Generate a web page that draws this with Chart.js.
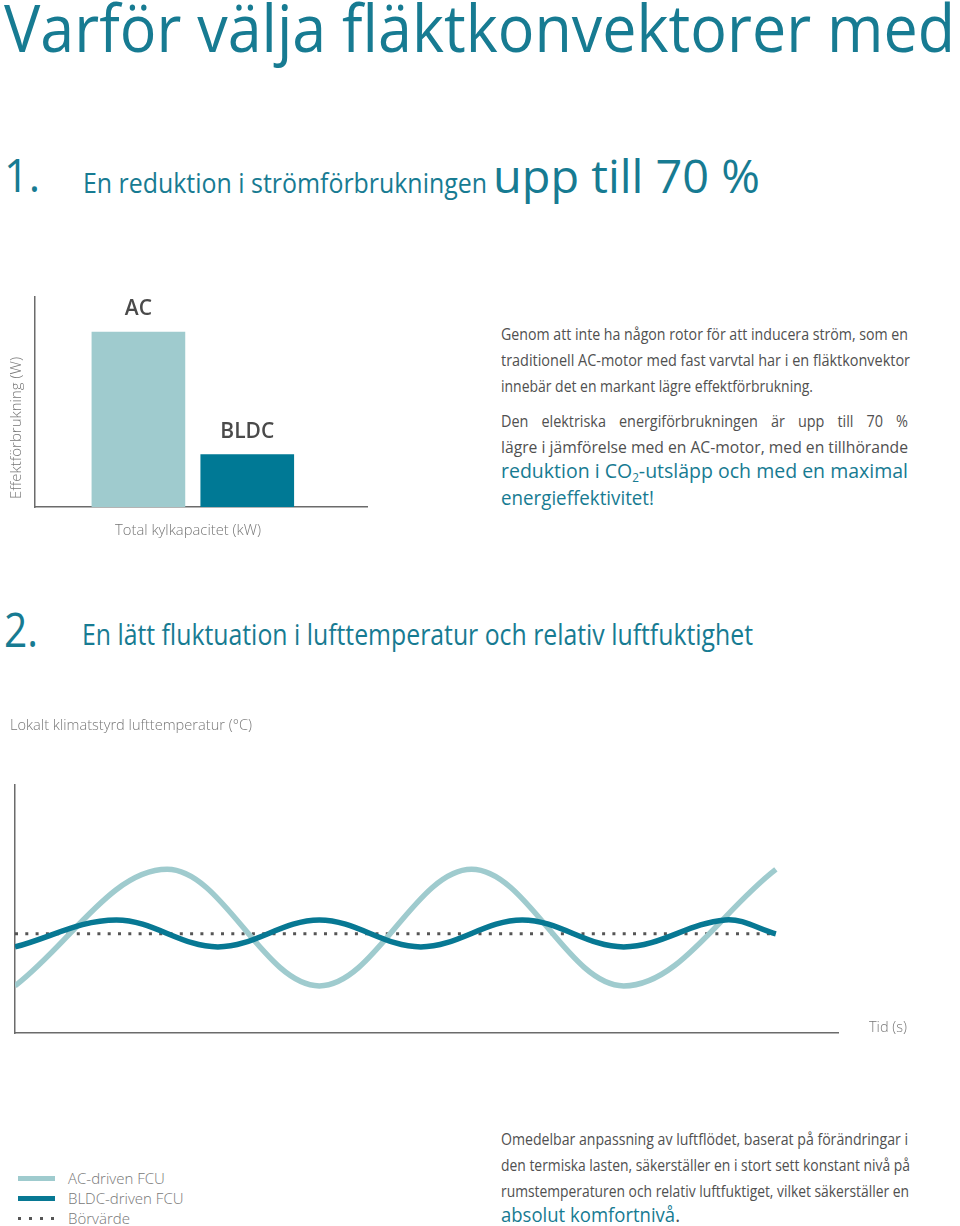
<!DOCTYPE html>
<html lang="sv">
<head>
<meta charset="utf-8">
<title>Fläktkonvektorer</title>
<script src="https://cdn.jsdelivr.net/npm/chart.js@4.4.0/dist/chart.umd.min.js"></script>
<style>
  html, body { margin: 0; padding: 0; background: #fff; }
  body { position: relative; width: 960px; height: 1226px; overflow: hidden; font-family: "Open Sans", sans-serif; }
  .t { position: absolute; white-space: nowrap; line-height: 1; transform-origin: 0 0; }
  .teal { color: #177b92; }
  .body { font-size: 16px; color: #505050; }
  .big { font-size: 20.5px; color: #177b92; }
  .gray { color: #505050; }
  sub { font-size: 0.6em; vertical-align: baseline; position: relative; top: 0.35em; line-height: 0; }
  canvas { position: absolute; left: 0; }
  #legend { position: absolute; left: 18px; top: 1168px; }
  #legend .row { height: 20px; display: flex; align-items: center; }
  #legend .sw { width: 37px; margin-right: 13px; }
  #legend .lbl { font-size: 15px; font-weight: 300; color: #777; line-height: 20px; }
</style>
</head>
<body>

<div class="t teal" style="left:4px;font-size:66px" data-b="52" data-w="951">Varför välja fläktkonvektorer med</div>

<div class="t teal" style="left:4px;font-size:45px" data-b="192" data-w="36">1.</div>
<div class="t teal" style="left:83px;font-size:28px" data-b="193" data-w="404">En reduktion i strömförbrukningen</div>
<div class="t teal" style="left:493px;font-size:46px" data-b="193" data-w="267">upp till 70 %</div>

<div class="t body" style="left:501px" data-b="340" data-w="407">Genom att inte ha någon rotor för att inducera ström, som en</div>
<div class="t body" style="left:501px" data-b="366" data-w="409">traditionell AC-motor med fast varvtal har i en fläktkonvektor</div>
<div class="t body" style="left:501px" data-b="392" data-w="312">innebär det en markant lägre effektförbrukning.</div>
<div class="t body" style="left:501px" data-b="427" data-w="407" data-k="0.9">Den elektriska energiförbrukningen är upp till 70 %</div>
<div class="t body" style="left:501px" data-b="453" data-w="407">lägre i jämförelse med en AC-motor, med en tillhörande</div>
<div class="t big" style="left:501px" data-b="478" data-w="407">reduktion i CO<sub>2</sub>-utsläpp och med en maximal</div>
<div class="t big" style="left:501px" data-b="505" data-w="153">energieffektivitet!</div>

<div class="t teal" style="left:4px;font-size:48px" data-b="648" data-w="34">2.</div>
<div class="t teal" style="left:82px;font-size:30px" data-b="646" data-w="671">En lätt fluktuation i lufttemperatur och relativ luftfuktighet</div>

<div class="t body" style="left:501px" data-b="1145" data-w="407">Omedelbar anpassning av luftflödet, baserat på förändringar i</div>
<div class="t body" style="left:501px" data-b="1171" data-w="409">den termiska lasten, säkerställer en i stort sett konstant nivå på</div>
<div class="t body" style="left:501px" data-b="1197" data-w="408">rumstemperaturen och relativ luftfuktiget, vilket säkerställer en</div>
<div class="t big" style="left:501px" data-b="1222" data-w="179">absolut komfortnivå<span class="gray">.</span></div>

<canvas id="barChart" width="380" height="260" style="top:290px"></canvas>
<canvas id="lineChart" width="960" height="345" style="top:700px"></canvas>
<div id="legend"></div>

<script>
// --- bar chart data (effect consumption, arbitrary units) ---
const barCategories = ["AC", "BLDC"];
const barConsumption = [100, 30];
const barAxisMax = 120;

// --- line chart data (time units, °C) ---
const acTime = [0, 6, 12, 18, 24, 30];
const acTemp = [19.9, 24.6, 19.9, 24.6, 19.9, 24.6];
const bldcTime = [0, 4, 8, 12, 16, 20, 24, 28, 30];
const bldcTemp = [21.47, 22.56, 21.47, 22.56, 21.47, 22.56, 21.47, 22.56, 22.0];
const setpointTime = [0, 30];
const setpointTemp = [22.0, 22.0];
const timeMax = 32.45;
const tempMin = 18;
const tempMax = 28;

const lightTeal = "#9fcbce";
const darkTeal = "#077893";

// fit text lines to the widths of the original layout
document.querySelectorAll(".t").forEach(el => {
  const fs = parseFloat(getComputedStyle(el).fontSize);
  el.style.top = (el.dataset.b - 0.888 * fs) + "px";
  const target = +el.dataset.w;
  const natural = el.getBoundingClientRect().width;
  if (el.dataset.k) {
    // justified line: condense letters, widen the gaps
    const k = +el.dataset.k;
    const spaces = (el.textContent.match(/ /g) || []).length;
    if (spaces) el.style.wordSpacing = ((target / k - natural) / spaces) + "px";
    el.style.transform = "scaleX(" + k + ")";
  } else {
    el.style.transform = "scaleX(" + (target / natural) + ")";
  }
});

const axisLine = { display: true, color: "#6b6b6b", width: 1.5 };
const noGrid = { display: false, drawTicks: false };

const barText = {
  id: "barText",
  afterDatasetsDraw(chart) {
    const { ctx, chartArea } = chart;
    const meta = chart.getDatasetMeta(0);
    const labelWidths = [28, 54];
    ctx.save();
    ctx.fillStyle = "#4a4a4a";
    ctx.font = "600 21px 'Open Sans'";
    ctx.textAlign = "center";
    ctx.textBaseline = "alphabetic";
    meta.data.forEach((bar, i) => {
      ctx.fillText(barCategories[i], bar.x, bar.y - 17, labelWidths[i]);
    });
    ctx.font = "300 15px 'Open Sans'";
    ctx.fillStyle = "#777";
    ctx.textBaseline = "middle";
    ctx.fillText("Total kylkapacitet (kW)", chartArea.left + 153, chartArea.bottom + 24, 146);
    ctx.translate(17, 138);
    ctx.rotate(-Math.PI / 2);
    ctx.fillText("Effektförbrukning (W)", 0, 0, 142);
    ctx.restore();
  }
};

new Chart(document.getElementById("barChart"), {
  type: "bar",
  data: {
    datasets: [{
      data: barConsumption.map((v, i) => ({ x: i + 1, y: v })),
      backgroundColor: [lightTeal, "#007995"],
      barThickness: 93,
    }],
  },
  options: {
    responsive: false,
    animation: false,
    layout: { padding: { left: 35, top: 7, right: 13, bottom: 43 } },
    plugins: { legend: { display: false }, tooltip: { enabled: false } },
    scales: {
      x: { type: "linear", min: 0.05, max: 3.1, offset: false, grid: noGrid, ticks: { display: false }, border: axisLine },
      y: { min: 0, max: barAxisMax, grid: noGrid, ticks: { display: false }, border: axisLine },
    },
  },
  plugins: [barText],
});

const lineText = {
  id: "lineText",
  afterDraw(chart) {
    const { ctx, chartArea } = chart;
    ctx.save();
    ctx.font = "300 15px 'Open Sans'";
    ctx.fillStyle = "#777";
    ctx.textBaseline = "middle";
    ctx.textAlign = "left";
    ctx.fillText("Lokalt klimatstyrd lufttemperatur (°C)", 10, 26, 242);
    ctx.textAlign = "right";
    ctx.fillText("Tid (s)", 907, chartArea.bottom - 5, 38);
    ctx.restore();
  }
};

const toPoints = (xs, ys) => xs.map((x, i) => ({ x: x, y: ys[i] }));

const lineChart = new Chart(document.getElementById("lineChart"), {
  type: "line",
  data: {
    datasets: [
      {
        label: "AC-driven FCU",
        data: toPoints(acTime, acTemp),
        borderColor: lightTeal,
        borderWidth: 5.5,
        tension: 0.36,
        order: 1,
      },
      {
        label: "BLDC-driven FCU",
        data: toPoints(bldcTime, bldcTemp),
        borderColor: darkTeal,
        borderWidth: 5.5,
        tension: 0.36,
        order: 0,
      },
      {
        label: "Börvärde",
        data: toPoints(setpointTime, setpointTemp),
        borderColor: "#555",
        borderWidth: 3,
        borderDash: [3, 7.3],
        order: 2,
      },
    ],
  },
  options: {
    responsive: false,
    animation: false,
    elements: { point: { radius: 0 } },
    layout: { padding: { left: 15, top: 85, right: 122, bottom: 12 } },
    plugins: { legend: { display: false }, tooltip: { enabled: false } },
    scales: {
      x: { type: "linear", min: 0, max: timeMax, grid: noGrid, ticks: { display: false }, border: axisLine },
      y: { min: tempMin, max: tempMax, grid: noGrid, ticks: { display: false }, border: axisLine },
    },
  },
  plugins: [lineText],
});

// html legend built from the line chart datasets
const legend = document.getElementById("legend");
lineChart.data.datasets.forEach(ds => {
  const row = document.createElement("div");
  row.className = "row";
  const sw = document.createElement("div");
  sw.className = "sw";
  if (ds.borderDash) {
    sw.style.height = "3px";
    sw.style.background = "repeating-linear-gradient(to right, " + ds.borderColor + " 0 3px, transparent 3px 11px)";
  } else {
    sw.style.height = "5px";
    sw.style.background = ds.borderColor;
  }
  const lbl = document.createElement("span");
  lbl.className = "lbl";
  lbl.textContent = ds.label;
  row.appendChild(sw);
  row.appendChild(lbl);
  legend.appendChild(row);
});
</script>
</body>
</html>
